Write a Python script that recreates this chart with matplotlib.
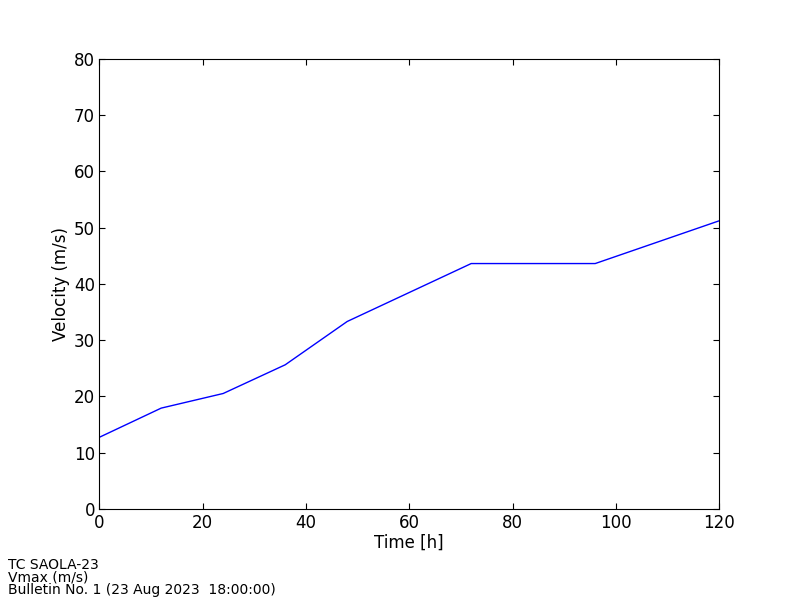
import matplotlib
matplotlib.use("Agg")
import matplotlib.pyplot as plt

# forecast lead time and max wind
hours = [0, 12, 24, 36, 48, 72, 96, 120]
vmax = [12.7, 17.9, 20.5, 25.6, 33.3, 43.6, 43.6, 51.2]

fig = plt.figure(figsize=(8, 6), dpi=100)
ax = fig.add_axes([0.124, 0.152, 0.775, 0.75])
ax.plot(hours, vmax, color="blue", lw=1)
ax.set_xlim(0, 120)
ax.set_ylim(0, 80)
ax.set_xticks(range(0, 121, 20))
ax.set_yticks(range(0, 81, 10))
ax.tick_params(direction="in", top=True, right=True, length=4, labelsize=12)
ax.tick_params(axis="x", pad=4)
ax.tick_params(axis="y", pad=3)
ax.set_xlabel("Time [h]", fontsize=12, labelpad=1)
ax.set_ylabel("Velocity (m/s)", fontsize=12, labelpad=3)

fig.text(0.01, 0.005, "TC SAOLA-23\nVmax (m/s)\nBulletin No. 1 (23 Aug 2023  18:00:00)",
         fontsize=10, va="bottom", ha="left", linespacing=0.85)

fig.savefig("out.png", dpi=100)
